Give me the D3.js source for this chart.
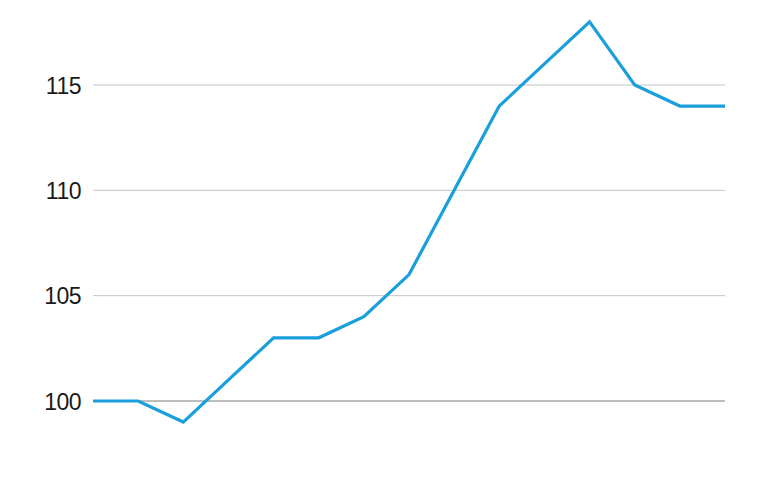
<!DOCTYPE html>
<html><head><meta charset="utf-8">
<script src="https://cdn.jsdelivr.net/npm/d3@7"></script>
<style>html,body{margin:0;padding:0;background:#fff;}svg{display:block;}</style>
</head><body>
<svg id="chart" width="767" height="480"></svg>
<script>
const periods = [1,2,3,4,5,6,7,8,9,10,11,12,13,14,15];
const values = [100,100,99,101,103,103,104,106,110,114,116,118,115,114,114];
const yTicks = [100,105,110,115];

const svg = d3.select("#chart");
const x = d3.scalePoint().domain(periods).range([93,725]);
const y = d3.scaleLinear().domain([100,115]).range([401,85]);

const grid = svg.append("g");
grid.selectAll("line").data(yTicks).join("line")
  .attr("x1",93).attr("x2",725)
  .attr("y1",d=>y(d)).attr("y2",d=>y(d))
  .attr("stroke",d=>d===100?"#7a7a7a":"#c4c4c4")
  .attr("stroke-width",1);

const yAxis = d3.axisLeft(y).tickValues(yTicks).tickSize(0).tickPadding(0).tickFormat(d3.format("d"));
const ag = svg.append("g").attr("transform","translate(81,0)").call(yAxis);
ag.select(".domain").remove();
ag.selectAll("text").attr("font-family","'Liberation Sans', Arial, sans-serif")
  .attr("font-size",23).attr("fill","#1a1a1a").attr("dy","0.35em")
  .attr("letter-spacing","-0.5");

const line = d3.line().x((d,i)=>x(periods[i])).y(d=>y(d));
svg.append("path").datum(values)
  .attr("d",line).attr("fill","none")
  .attr("stroke","#1a9fdc").attr("stroke-width",3.2)
  .attr("stroke-linejoin","miter");
</script>
</body></html>
